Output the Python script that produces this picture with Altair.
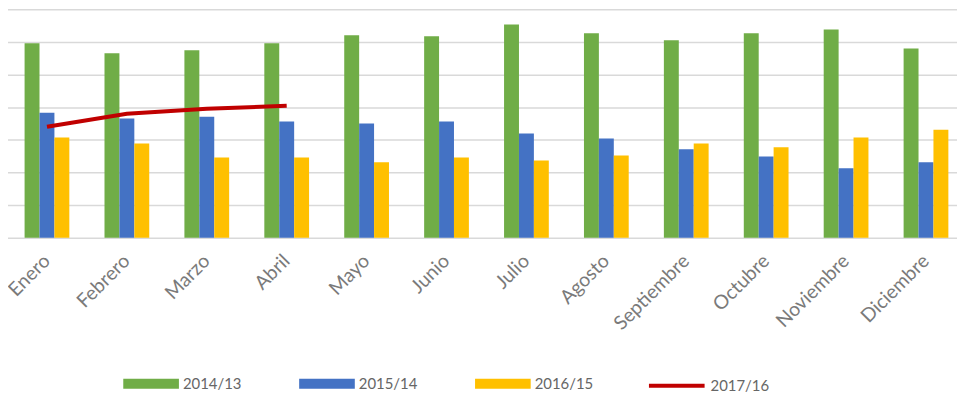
import altair as alt
import pandas as pd

meses = ["Enero", "Febrero", "Marzo", "Abril", "Mayo", "Junio", "Julio",
         "Agosto", "Septiembre", "Octubre", "Noviembre", "Diciembre"]
series_barras = ["2014/13", "2015/14", "2016/15"]
serie_linea = "2017/16"

v_2014_13 = [5.96, 5.65, 5.74, 5.96, 6.20, 6.17, 6.53, 6.26, 6.05, 6.26, 6.38, 5.80]
v_2015_14 = [3.83, 3.65, 3.71, 3.56, 3.50, 3.56, 3.19, 3.04, 2.71, 2.49, 2.13, 2.31]
v_2016_15 = [3.07, 2.89, 2.46, 2.46, 2.31, 2.46, 2.37, 2.52, 2.89, 2.77, 3.07, 3.31]
v_2017_16 = [3.40, 3.80, 3.95, 4.04]

colores_barras = ["#70ad47", "#4472c4", "#ffc000"]
color_linea = "#c00000"

filas = []
for serie, vals in zip(series_barras, [v_2014_13, v_2015_14, v_2016_15]):
    for m, v in zip(meses, vals):
        filas.append({"mes": m, "serie": serie, "valor": v})
df_barras = pd.DataFrame(filas)
df_linea = pd.DataFrame({"mes": meses[:len(v_2017_16)], "serie": serie_linea, "valor": v_2017_16})

x_scale = alt.Scale(domain=meses, range=[-1, 964], paddingInner=0.44, paddingOuter=0.22)
y_scale = alt.Scale(domain=[0, 7], nice=False)

x_axis = alt.Axis(title=None, labelAngle=-45, labelAlign="right", labelBaseline="middle",
                  labelPadding=20, labelColor="#7a7a7a", labelFont="Lato", labelFontSize=19.5,
                  domain=False, ticks=False, grid=False, labelOverlap=False)
y_axis = alt.Axis(title=None, labels=False, ticks=False, domain=False, grid=True,
                  values=[0, 1, 2, 3, 4, 5, 6, 7], gridColor="#d9d9d9", gridWidth=1.5)

rect_path = "M-1,-0.18H1V0.18H-1Z"

barras = alt.Chart(df_barras).mark_bar().encode(
    x=alt.X("mes:N", sort=meses, scale=x_scale, axis=x_axis),
    xOffset=alt.XOffset("serie:N", sort=series_barras, scale=alt.Scale(domain=series_barras, paddingInner=0, paddingOuter=0)),
    y=alt.Y("valor:Q", scale=y_scale, axis=y_axis),
    color=alt.Color("serie:N", scale=alt.Scale(domain=series_barras, range=colores_barras),
                    legend=alt.Legend(title=None, orient="none", legendX=116, legendY=349,
                                      direction="horizontal", symbolType=rect_path,
                                      symbolSize=3136, symbolStrokeWidth=0, symbolOpacity=1,
                                      labelFont="Lato", labelFontSize=15, labelColor="#666666",
                                      labelOffset=4, columnPadding=58, padding=0)),
)

linea = alt.Chart(df_linea).mark_line(strokeWidth=4).encode(
    x=alt.X("mes:N", sort=meses, scale=x_scale, axis=x_axis),
    y=alt.Y("valor:Q", scale=y_scale, axis=y_axis),
    stroke=alt.Stroke("serie:N", scale=alt.Scale(domain=[serie_linea], range=[color_linea]),
                      legend=alt.Legend(title=None, orient="none", legendX=643, legendY=349,
                                        symbolType="stroke", symbolSize=3136, symbolStrokeWidth=4,
                                        labelFont="Lato", labelFontSize=15, labelColor="#666666",
                                        labelOffset=4, padding=0)),
)

chart = alt.layer(barras, linea).properties(
    width=955, height=230,
    autosize=alt.AutoSizeParams(type="none"),
    padding={"left": 0, "top": 0, "right": 0, "bottom": 155},
).configure_view(stroke=None)

chart.save("out.html", embed_options={"renderer": "svg", "actions": False})
